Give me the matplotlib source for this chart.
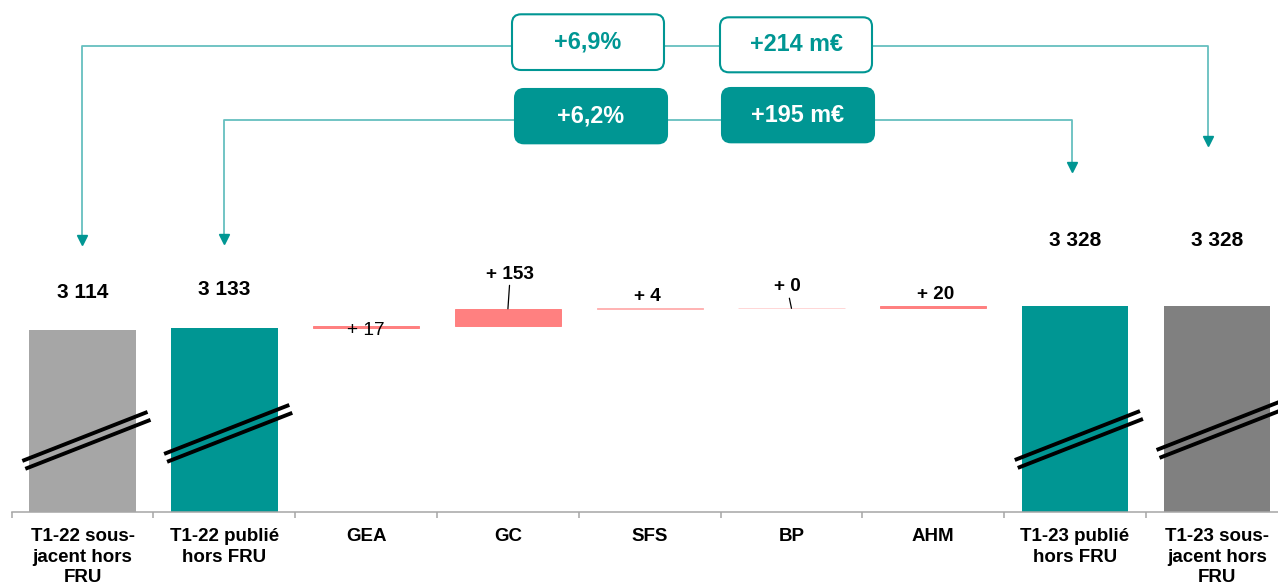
import matplotlib
matplotlib.use("Agg")
import numpy as np
import matplotlib.pyplot as plt
from matplotlib.patches import FancyBboxPatch

plt.rcParams["font.family"] = ["Liberation Sans", "DejaVu Sans"]

# -----------------------------------------------
# Data
# -----------------------------------------------
categories = ["T1-22 sous-\njacent hors\nFRU", "T1-22 publié\nhors FRU", "GEA", "GC", "SFS",
              "BP", "AHM", "T1-23 publié\nhors FRU", "T1-23 sous-\njacent hors\nFRU"]
total_idx = [0, 1, 7, 8]
total_values = [3114, 3133, 3328, 3328]
delta_idx = [2, 3, 4, 5, 6]
deltas = [17, 153, 4, 0, 20]
delta_start = 3133
box_labels_underlying = ["+6,9%", "+214 m€"]
box_labels_published = ["+6,2%", "+195 m€"]

# -----------------------------------------------
# Style
# -----------------------------------------------
teal = "#009693"
teal_light = "#66bfbf"
pink = "#ff8080"
total_colors = ["#a6a6a6", teal, teal, "#808080"]
delta_colors = [pink, pink, "#ffb3b3", "#ffd6d6", pink]
axis_grey = "#a6a6a6"

# broken axis: bars start at the axis bottom, not at zero
y_base, y_top = 1505, 6039

W, H = 1278, 588
fig = plt.figure(figsize=(W / 100, H / 100), dpi=100)
ax = fig.add_axes([11.7 / W, 76.3 / H, 1276 / W, 511.7 / H])
ax.set_xlim(-0.5, 8.5)
ax.set_ylim(y_base, y_top)

# total bars
tot_h = [v - y_base for v in total_values]
ax.bar(total_idx, tot_h, bottom=y_base, width=0.75, color=total_colors, zorder=2)

# waterfall bars
bottoms = delta_start + np.concatenate([[0], np.cumsum(deltas)[:-1]])
ax.bar(delta_idx, deltas, bottom=bottoms, width=0.75, color=delta_colors,
       edgecolor=delta_colors, linewidth=0.7, zorder=2)

# total labels (offset in points above bar top)
tot_off = [27.4, 28, 46.8, 46.8]
for i, v, off in zip(total_idx, total_values, tot_off):
    ax.annotate(f"{v:,}".replace(",", " "), xy=(i, v), xytext=(0, off),
                textcoords="offset points", ha="center", va="center",
                fontsize=15, fontweight="bold", color="black")

# delta labels
d_off = [(0, -3), (1.7, 25), (-1.8, 8.2), (-3.2, 15.4), (1.8, 8)]
d_weight = ["normal", "bold", "bold", "bold", "bold"]
d_leader = [False, True, False, True, False]
for i, d, b, off, wt, lead in zip(delta_idx, deltas, bottoms, d_off, d_weight, d_leader):
    arrow = dict(arrowstyle="-", color="black", lw=0.9, shrinkA=0, shrinkB=0) if lead else None
    ax.annotate(f"+ {d}", xy=(i, b + d), xytext=off, textcoords="offset points",
                ha="center", va="center", fontsize=13.7, fontweight=wt,
                color="black", arrowprops=arrow, zorder=4)

# break marks on the total bars
break_lo = [1955, 2017, 1963, 2052]
rise = 434
for i, y0 in zip(total_idx, break_lo):
    for dx, dy in [(0, 0), (0.021, -70)]:
        ax.plot([i - 0.425 + dx, i + 0.458 + dx], [y0 + dy, y0 + dy + rise],
                color="black", lw=2.8, solid_capstyle="butt", zorder=3, clip_on=False)

# axes styling
for s in ["top", "left", "right"]:
    ax.spines[s].set_visible(False)
ax.spines["bottom"].set_color(axis_grey)
ax.spines["bottom"].set_linewidth(1.1)
ax.set_yticks([])
ax.set_xticks(range(len(categories)), categories, fontsize=13.5, fontweight="bold",
              linespacing=1.3)
ax.set_xticks(np.arange(-0.5, len(categories), 1), minor=True)
ax.tick_params(axis="x", which="major", length=0, pad=11.5)
ax.tick_params(axis="x", which="minor", length=4.3, width=1.1, color=axis_grey, direction="out")

# -----------------------------------------------
# Growth brackets on top (pixel coordinates)
# -----------------------------------------------
ov = fig.add_axes([0, 0, 1, 1], zorder=3)
ov.set_xlim(0, W)
ov.set_ylim(H, 0)
ov.axis("off")
ov.patch.set_alpha(0)

# outer bracket: underlying
ov.plot([82, 82, 1208, 1208], [238, 45.7, 45.7, 139], color=teal_light, lw=1.3)
ov.plot([82, 1208], [240, 141], "v", color=teal, markersize=7, linestyle="none")
# inner bracket: published
ov.plot([224, 224, 1072, 1072], [237, 119.7, 119.7, 165], color=teal_light, lw=1.3)
ov.plot([224, 1072], [239, 167], "v", color=teal, markersize=7, linestyle="none")

box_geom_top = [(512, 14.3, 152, 55.7), (720, 17.3, 152, 55)]
box_geom_bot = [(515, 89, 152, 54.3), (722, 88, 152, 54.3)]
for (x0, y0, w, h), lab in zip(box_geom_top, box_labels_underlying):
    ov.add_patch(FancyBboxPatch((x0, y0), w, h, boxstyle="round,pad=0,rounding_size=9",
                                facecolor="white", edgecolor=teal, lw=1.5, zorder=4))
    ov.text(x0 + w / 2, y0 + h / 2, lab, ha="center", va="center", fontsize=16.8,
            fontweight="bold", color=teal, zorder=5)
for (x0, y0, w, h), lab in zip(box_geom_bot, box_labels_published):
    ov.add_patch(FancyBboxPatch((x0, y0), w, h, boxstyle="round,pad=0,rounding_size=9",
                                facecolor=teal, edgecolor=teal, lw=1.5, zorder=4))
    ov.text(x0 + w / 2, y0 + h / 2, lab, ha="center", va="center", fontsize=16.8,
            fontweight="bold", color="white", zorder=5)

fig.savefig("out.png", dpi=100)
